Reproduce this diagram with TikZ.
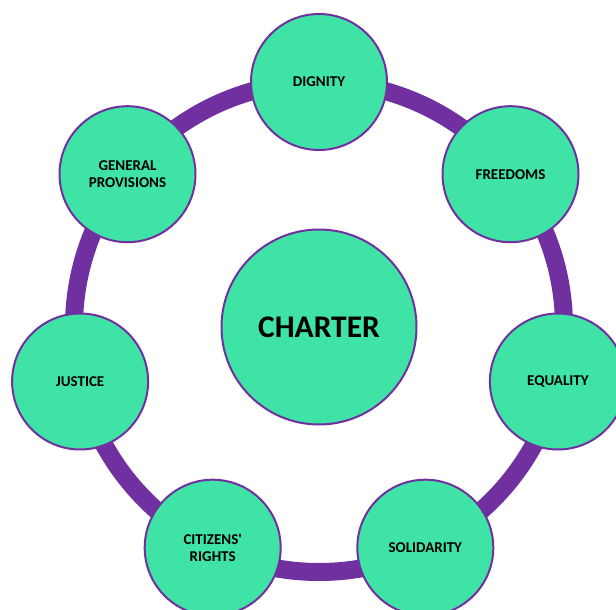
\documentclass[tikz,border=0pt]{standalone}
\usepackage{fontspec}
\setmainfont{Carlito}
\newfontfamily\labelfont{Carlito}
\definecolor{ringpurple}{HTML}{7030A0}
\definecolor{mint}{HTML}{3EE3A5}
\begin{document}
\begin{tikzpicture}[x=1pt,y=-1pt,
  outer/.style={circle,draw=ringpurple,line width=2pt,fill=mint,minimum size=136pt,inner sep=0pt,align=center,font=\labelfont\fontsize{15}{17}\selectfont\bfseries},
  hub/.style={circle,draw=ringpurple,line width=2pt,fill=mint,minimum size=195pt,inner sep=0pt,font=\labelfont\fontsize{31.5}{38}\selectfont\bfseries},
  ring/.style={draw=ringpurple,line width=18pt}]
\useasboundingbox (0,0) rectangle (616,610);
\coordinate (c) at (319,327);
\draw[ring] (c) circle[radius=245];
\node[hub] (charter) at (c) {CHARTER};
\node[outer] (dignity) at (319,82) {DIGNITY};
\node[outer] (freedoms) at (510.5,174.2) {FREEDOMS};
\node[outer] (equality) at (557.9,381.5) {EQUALITY};
\node[outer] (solidarity) at (425.3,547.7) {SOLIDARITY};
\node[outer] (citizens) at (212.7,547.7) {CITIZENS'\\RIGHTS};
\node[outer] (justice) at (80.1,381.5) {JUSTICE};
\node[outer] (general) at (127.5,174.2) {GENERAL\\PROVISIONS};
\end{tikzpicture}
\end{document}
